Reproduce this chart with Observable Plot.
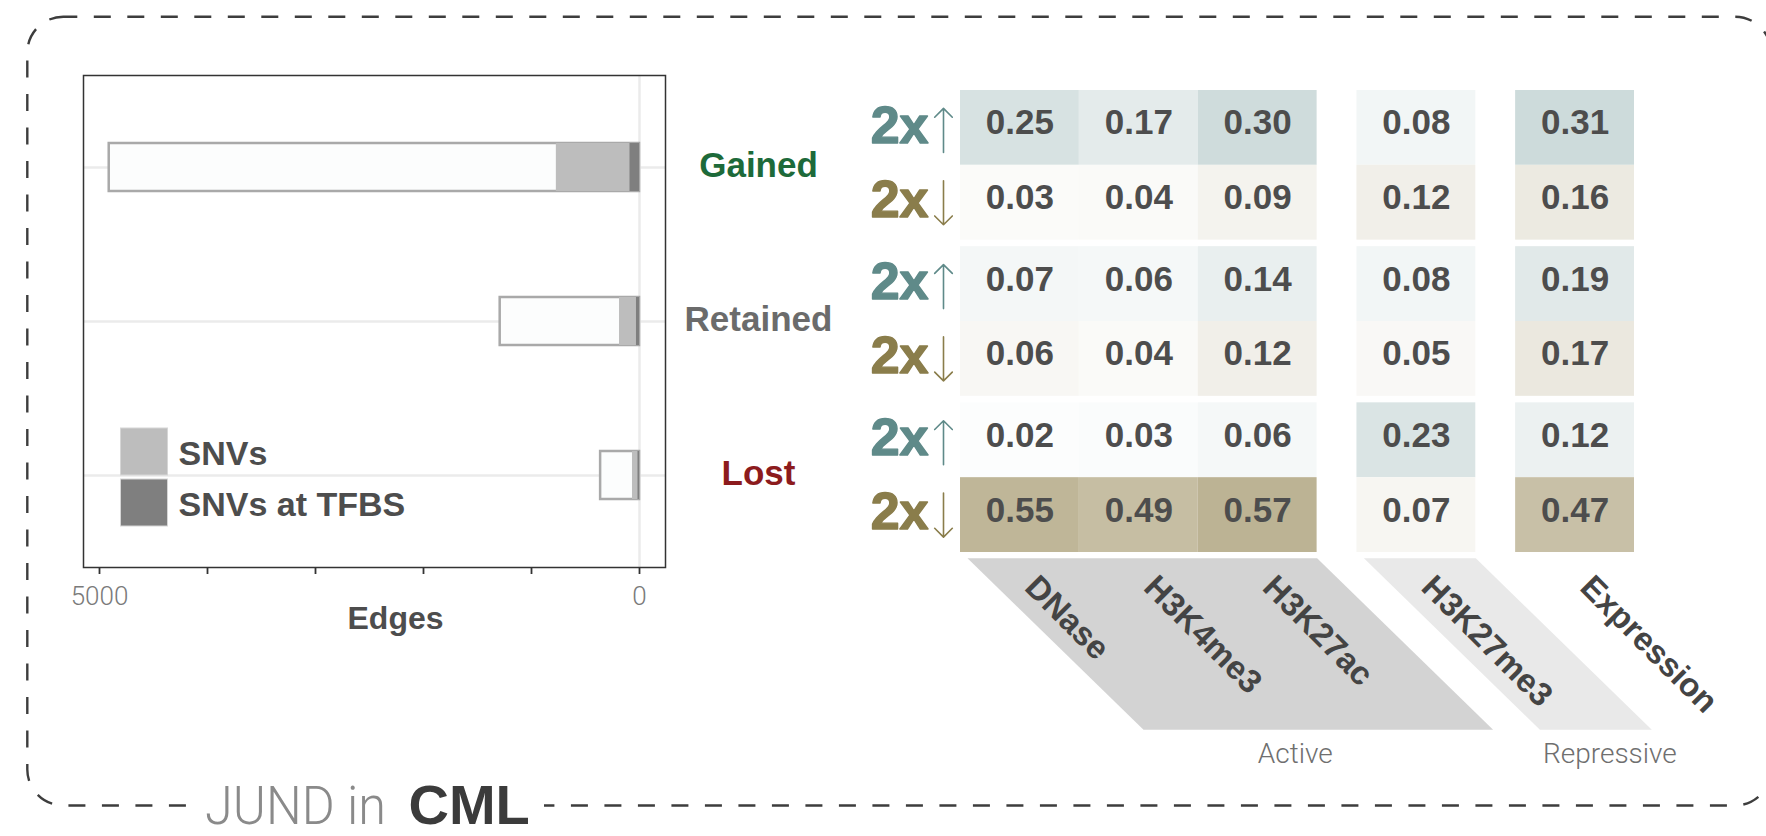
<!DOCTYPE html>
<html><head><meta charset="utf-8">
<script src="https://cdn.jsdelivr.net/npm/d3@7"></script>
<script src="https://cdn.jsdelivr.net/npm/@observablehq/plot@0.6"></script>
<style>
html,body{margin:0;padding:0;background:#fff;}
#root{position:relative;width:1766px;height:836px;overflow:hidden;font-family:"Liberation Sans",Arial,sans-serif;}
#root > svg, #root > div{position:absolute;}
#bars [aria-label="x-axis tick label"] text, #bars [aria-label="x-axis tick label"], #bars g[aria-label="x-axis"] g.tick text{fill:#7a7a7a !important;font-family:Roboto,"Liberation Sans",sans-serif !important;font-weight:300 !important;font-size:26px !important;}
#bars [aria-label="x-axis tick"], #bars [aria-label="x-axis tick"] path, #bars g[aria-label="x-axis"] g.tick line{stroke:#333 !important;stroke-width:1.8px !important;}
</style></head><body><div id="root"></div>
<script>
// ---------------- data ----------------
const categories = ["Gained", "Retained", "Lost"];
const totalEdges = [4910, 1290, 360];
const snvEdges = [770, 185, 65];
const tfbsEdges = [88, 28, 14];
const xTicks = [5000, 4000, 3000, 2000, 1000, 0];
const xTickLabels = [5000, 0];
const legendLabels = ["SNVs", "SNVs at TFBS"];

const assays = ["DNase", "H3K4me3", "H3K27ac", "H3K27me3", "Expression"];
const assayGroup = ["Active", "Active", "Active", "Repressive", "None"];
const groupLabels = ["Active", "Repressive"];
const directions = ["up", "down"];
const gainedUp = [0.25, 0.17, 0.30, 0.08, 0.31];
const gainedDown = [0.03, 0.04, 0.09, 0.12, 0.16];
const retainedUp = [0.07, 0.06, 0.14, 0.08, 0.19];
const retainedDown = [0.06, 0.04, 0.12, 0.05, 0.17];
const lostUp = [0.02, 0.03, 0.06, 0.23, 0.12];
const lostDown = [0.55, 0.49, 0.57, 0.07, 0.47];

// ---------------- styles ----------------
const FONT = "Liberation Sans, Arial, sans-serif";
const LIGHT = "Roboto, Liberation Sans, sans-serif";
const statusColors = {Gained: "#1d6a3a", Retained: "#6b6b6b", Lost: "#8c1b1d"};
const teal = "#5f8b8b", olive = "#8a7a44";
const upColor = "#5f8a89", downColor = "#8a7d4b";
const snvFill = "#bdbdbd", tfbsFill = "#7f7f7f";

const root = document.getElementById("root");

// ---------------- left: bar chart ----------------
const barData = categories.map((c, i) => ({category: c, total: totalEdges[i], snv: snvEdges[i], tfbs: tfbsEdges[i]}));
const bars = Plot.plot({
  width: 860, height: 660,
  marginLeft: 83, marginRight: 195, marginTop: 75, marginBottom: 93,
  style: {background: "transparent", fontFamily: FONT, fontSize: "26px", color: "#333", overflow: "visible"},
  x: {domain: [0, 5000], reverse: true, insetLeft: 16, insetRight: 26, ticks: xTicks,
      tickFormat: d => xTickLabels.includes(d) ? String(d) : "", tickSize: 7, tickPadding: 12, label: null},
  y: {domain: categories, paddingInner: 0.689, paddingOuter: 0.435, axis: null},
  color: {type: "identity"},
  marks: [
    Plot.ruleY(categories, {y: d => d, stroke: "#ebebeb", strokeWidth: 2.5}),
    Plot.ruleX([0], {stroke: "#ebebeb", strokeWidth: 2.5}),
    Plot.barX(barData, {x: "total", y: "category", fill: "#fcfdfd", stroke: "#a9a9a9", strokeWidth: 2.5}),
    Plot.barX(barData, {x: "snv", y: "category", fill: snvFill}),
    Plot.barX(barData, {x: "tfbs", y: "category", fill: tfbsFill}),
    Plot.frame({stroke: "#333", strokeWidth: 1.5}),
    Plot.text(categories, {y: d => d, text: d => d, frameAnchor: "right", textAnchor: "middle", dx: 93, dy: -2,
      fill: d => statusColors[d], fontSize: 35, fontWeight: "bold"}),
    Plot.text(["Edges"], {text: d => d, frameAnchor: "bottom", textAnchor: "middle", dx: 21, dy: 61, lineAnchor: "bottom",
      fontSize: 32, fontWeight: "bold", fill: "#4d4d4d"})
  ]
});
bars.id = "bars";
bars.style.left = "0px"; bars.style.top = "0px";
root.appendChild(bars);

// ---------------- right: heat map ----------------
const gapX = 0.335, gapY = 0.087;
const colStart = assays.map((a, i) => {
  let g = 0;
  for (let k = 1; k <= i; k++) if (assayGroup[k] !== assayGroup[k - 1]) g++;
  return i + g * gapX;
});
const xEnd = colStart[colStart.length - 1] + 1;
const yEnd = categories.length * 2 + (categories.length - 1) * gapY;
const statusValues = {Gained: [gainedUp, gainedDown], Retained: [retainedUp, retainedDown], Lost: [lostUp, lostDown]};
const cells = [], rowLabels = [];
categories.forEach((s, g) => directions.forEach((dir, d) => {
  const y0 = g * 2 + d + g * gapY;
  rowLabels.push({dir, y: y0 + 0.5});
  statusValues[s][d].forEach((v, c) => cells.push({
    status: s, dir, assay: assays[c], value: v,
    x1: colStart[c], x2: colStart[c] + 1, y1: y0, y2: y0 + 1,
    signed: dir === "up" ? v : -v
  }));
}));

const HW = 921, HH = 836, HL = 115, HR = 132, HT = 90, HB = 284;
const pxX = (HW - HL - HR) / xEnd, pxY = (HH - HT - HB) / yEnd;
const ux = p => p / pxX, uy = p => p / pxY;

// group brackets (parallelograms)
const shear = ux(176), pTop = yEnd + uy(5.7), pBot = yEnd + uy(177.3);
const groupShapes = groupLabels.map(gname => {
  const idx = assays.map((a, i) => i).filter(i => assayGroup[i] === gname);
  const x0 = colStart[idx[0]] + ux(7), x1 = colStart[idx[idx.length - 1]] + 1;
  return {group: gname, pts: [{x: x0, y: pTop}, {x: x1, y: pTop}, {x: x1 + shear, y: pBot}, {x: x0 + shear, y: pBot}],
          cx: (x0 + x1) / 2 + shear};
});
const groupFill = {Active: "#d3d3d3", Repressive: "#e9e9e9"};
const groupNudge = {Active: -23, Repressive: 14};
const upRows = rowLabels.filter(d => d.dir === "up"), downRows = rowLabels.filter(d => d.dir === "down");

const heat = Plot.plot({
  width: HW, height: HH, marginLeft: HL, marginRight: HR, marginTop: HT, marginBottom: HB,
  style: {background: "transparent", fontFamily: FONT, overflow: "visible"},
  x: {domain: [0, xEnd], axis: null},
  y: {domain: [0, yEnd], reverse: true, axis: null},
  color: {type: "linear", domain: [-1, 0, 1], range: [olive, "#ffffff", teal], interpolate: "rgb"},
  marks: [
    ...groupShapes.map(g => Plot.line(g.pts, {x: "x", y: "y", fill: groupFill[g.group], stroke: "none"})),
    Plot.rect(cells, {x1: "x1", x2: "x2", y1: "y1", y2: "y2", fill: "signed"}),
    Plot.text(cells, {x: d => (d.x1 + d.x2) / 2, y: d => (d.y1 + d.y2) / 2, text: d => d.value.toFixed(2),
      lineAnchor: "bottom", dy: 6.5, fontSize: 35, fontWeight: "bold", fill: "#4d4d4d"}),
    Plot.text(upRows, {y: "y", text: () => "2x", frameAnchor: "left", dx: -32,
      textAnchor: "end", lineAnchor: "bottom", dy: 15, fontSize: 52, fontWeight: "bold",
      fill: upColor, stroke: upColor, strokeWidth: 1.4}),
    Plot.text(downRows, {y: "y", text: () => "2x", frameAnchor: "left", dx: -32,
      textAnchor: "end", lineAnchor: "bottom", dy: 14, fontSize: 52, fontWeight: "bold",
      fill: downColor, stroke: downColor, strokeWidth: 1.4}),
    Plot.vector(upRows, {y: "y", frameAnchor: "left", dx: -17, dy: 2.5, length: 44, rotate: 0, anchor: "middle",
      stroke: upColor, strokeWidth: 1.6}),
    Plot.vector(downRows, {y: "y", frameAnchor: "left", dx: -17, dy: 0, length: 44, rotate: 180, anchor: "middle",
      stroke: downColor, strokeWidth: 1.6}),
    Plot.text(assays, {x: (d, i) => colStart[i] + 0.5 + ux(20), y: () => yEnd + uy(20), text: d => d,
      rotate: 45, textAnchor: "start", lineAnchor: "top", fontSize: 33, fontWeight: "bold", fill: "#444"}),
    Plot.text(groupShapes, {x: d => d.cx + ux(groupNudge[d.group]), y: () => yEnd + uy(210), text: d => d.group,
      textAnchor: "middle", lineAnchor: "bottom", fontSize: 28, fontFamily: LIGHT, fontWeight: 300, fill: "#6f6f6f"})
  ]
});
heat.style.left = (960 - HL) + "px"; heat.style.top = "0px";
root.appendChild(heat);

// ---------------- decorations: border, title, legend ----------------
const deco = d3.create("svg").attr("width", 1766).attr("height", 836).style("left", "0px").style("top", "0px")
  .style("pointer-events", "none").style("font-family", FONT);
deco.append("rect").attr("x", 27.3).attr("y", 16.7).attr("width", 1743.7).attr("height", 788.8).attr("rx", 36)
  .attr("fill", "none").attr("stroke", "#3d3d3d").attr("stroke-width", 2.4)
  .attr("stroke-dasharray", "17 16.5").attr("stroke-dashoffset", 3);
deco.append("rect").attr("x", 194).attr("y", 795).attr("width", 350).attr("height", 22).attr("fill", "#fff");
deco.append("text").attr("x", 205).attr("y", 824).attr("font-size", 54).attr("font-family", LIGHT)
  .attr("font-weight", 300).attr("fill", "#8a8a8a")
  .attr("textLength", 181).attr("lengthAdjust", "spacingAndGlyphs").text("JUND in");
deco.append("text").attr("x", 408.5).attr("y", 824).attr("font-size", 56).attr("font-weight", "bold")
  .attr("fill", "#3b3b3b").text("CML");
const legendFills = [snvFill, tfbsFill];
legendLabels.forEach((lab, i) => {
  const y0 = 428 + i * 51;
  deco.append("rect").attr("x", 120.5).attr("y", y0).attr("width", 47).attr("height", 47)
    .attr("fill", legendFills[i]).attr("stroke", "#d6d6d6").attr("stroke-width", 1);
  deco.append("text").attr("x", 178.5).attr("y", y0 + 37).attr("font-size", 34).attr("font-weight", "bold")
    .attr("fill", "#4d4d4d").text(lab);
});
root.appendChild(deco.node());
</script></body></html>
